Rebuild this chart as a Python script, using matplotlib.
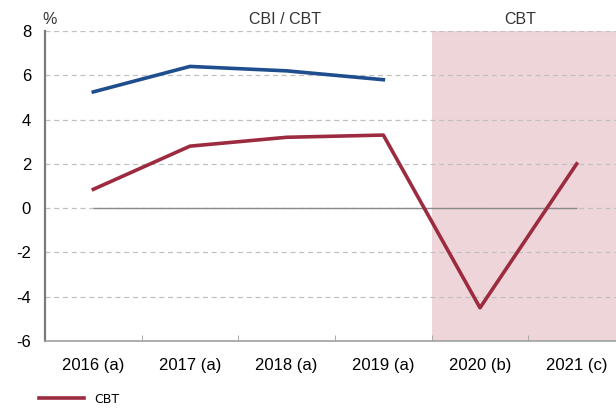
import matplotlib
matplotlib.use("Agg")
import matplotlib.pyplot as plt

years = ["2016 (a)", "2017 (a)", "2018 (a)", "2019 (a)", "2020 (b)", "2021 (c)"]
cbi = [5.25, 6.4, 6.2, 5.8]
cbt = [0.85, 2.8, 3.2, 3.3, -4.5, 2.0]
y_ticks = [-6, -4, -2, 0, 2, 4, 6, 8]

blue = "#1f4e8f"
red = "#9c2b40"
pink = "#eed5d9"

plt.rcParams['font.family'] = ['Liberation Sans', 'DejaVu Sans']

fig = plt.figure(figsize=(6.16, 4.08), dpi=100)
ax = fig.add_axes([45/616, 67/408, 580/616, 310/408])

n = len(years)
ax.set_xlim(-0.5, n - 0.5)
ax.set_ylim(-6, 8)

# forecast area
ax.axvspan(3.5, n - 0.5, color=pink, zorder=0, lw=0)

ax.set_yticks(y_ticks)
ax.set_yticklabels([str(v) for v in y_ticks], fontsize=12)
ax.grid(axis='y', color='#c0c0c0', linestyle=(0, (4, 3)), linewidth=0.9)
ax.set_axisbelow(True)
ax.hlines(0, 0, n - 1, color='#8a8a8a', linewidth=1.0, zorder=2)

ax.plot(range(len(cbi)), cbi, color=blue, linewidth=2.6, zorder=3)
line_cbt, = ax.plot(range(n), cbt, color=red, linewidth=2.6, zorder=3)

# category labels at centres, ticks at boundaries
ax.set_xticks(range(n))
ax.set_xticklabels(years, fontsize=12)
ax.set_xticks([i + 0.5 for i in range(n - 1)], minor=True)
ax.tick_params(axis='x', which='major', length=0, pad=12)
ax.tick_params(axis='x', which='minor', direction='in', length=4, color='#a0a0a0')
ax.tick_params(axis='y', length=0, pad=10)

for s in ['top', 'right']:
    ax.spines[s].set_visible(False)
ax.spines['left'].set_color('#7a7a7a')
ax.spines['left'].set_linewidth(1.6)
ax.spines['bottom'].set_color('#a0a0a0')
ax.spines['bottom'].set_linewidth(1.2)

ax.text(1.98, 8.2, "CBI / CBT", ha='center', va='bottom', fontsize=11.5, color='#333333')
ax.text(4.42, 8.2, "CBT", ha='center', va='bottom', fontsize=11.5, color='#333333')
ax.text(-0.45, 8.2, "%", ha='center', va='bottom', fontsize=11.5, color='#333333')

fig.legend([line_cbt], ["CBT"], loc='lower left', bbox_to_anchor=(0.045, -0.022),
           frameon=False, handlelength=3.6,
           prop={'family': ['Liberation Sans Narrow', 'DejaVu Sans'], 'size': 9})

fig.savefig("out.png", dpi=100)
